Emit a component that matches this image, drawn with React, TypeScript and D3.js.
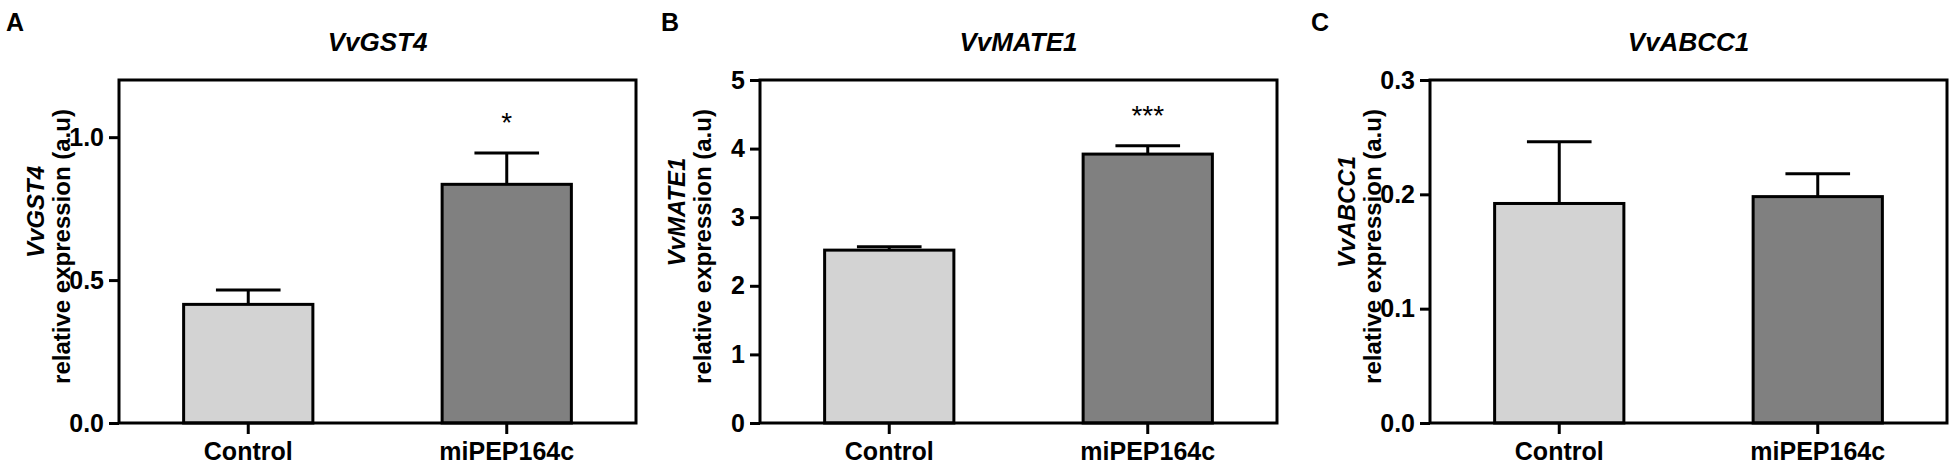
import React, { useEffect, useRef } from 'react';
import * as d3 from 'd3';

// categories and readings taken from the figure
const categories = ['Control', 'miPEP164c'];
const genes = ['VvGST4', 'VvMATE1', 'VvABCC1'];
const panelLetters = ['A', 'B', 'C'];

const gst4Means = [0.415, 0.835];
const gst4Errors = [0.05, 0.11];
const mate1Means = [2.52, 3.92];
const mate1Errors = [0.05, 0.12];
const abcc1Means = [0.192, 0.198];
const abcc1Errors = [0.054, 0.02];

const yMaxes = [1.2, 5, 0.3];
const yTickValues = [[0, 0.5, 1.0], [0, 1, 2, 3, 4, 5], [0, 0.1, 0.2, 0.3]];
const yTickFormats = ['.1f', 'd', '.1f'];
const significance = [['', '*'], ['', '***'], ['', '']];

const barColors = ['#d3d3d3', '#808080'];

const W = 1955;
const H = 472;
const FONT = 'Liberation Sans, Arial, sans-serif';

const App: React.FC = () => {
  const svgRef = useRef<SVGSVGElement>(null);

  useEffect(() => {
    if (!svgRef.current) return;
    const svg = d3.select(svgRef.current);
    svg.selectAll('*').remove();

    const means = [gst4Means, mate1Means, abcc1Means];
    const errors = [gst4Errors, mate1Errors, abcc1Errors];
    const frameLefts = [119, 760, 1430];
    const letterX = [6, 661, 1311];
    const frameW = 517;
    const top = 80;
    const bottom = 423;

    genes.forEach((gene, p) => {
      const x0 = frameLefts[p];
      const x = d3.scaleBand<string>().domain(categories).range([x0, x0 + frameW]).paddingInner(0.5).paddingOuter(0.25);
      const y = d3.scaleLinear().domain([0, yMaxes[p]]).range([bottom, top]);
      const g = svg.append('g');

      // panel letter
      g.append('text')
        .attr('x', letterX[p]).attr('y', 31)
        .attr('font-family', FONT).attr('font-weight', 'bold').attr('font-size', 25)
        .text(panelLetters[p]);

      // title
      g.append('text')
        .attr('x', x0 + frameW / 2).attr('y', 51)
        .attr('text-anchor', 'middle')
        .attr('font-family', FONT).attr('font-weight', 'bold').attr('font-style', 'italic').attr('font-size', 26)
        .text(gene);

      // bars
      categories.forEach((c, i) => {
        const bx = x(c)!;
        const bw = x.bandwidth();
        const cx = bx + bw / 2;
        const errTop = y(means[p][i] + errors[p][i]);
        g.append('line')
          .attr('x1', cx).attr('x2', cx)
          .attr('y1', y(means[p][i])).attr('y2', errTop)
          .attr('stroke', '#000').attr('stroke-width', 3);
        g.append('line')
          .attr('x1', cx - bw / 4).attr('x2', cx + bw / 4)
          .attr('y1', errTop).attr('y2', errTop)
          .attr('stroke', '#000').attr('stroke-width', 3);
        g.append('rect')
          .attr('x', bx).attr('y', y(means[p][i]))
          .attr('width', bw).attr('height', bottom - y(means[p][i]))
          .attr('fill', barColors[i]).attr('stroke', '#000').attr('stroke-width', 3);
        if (significance[p][i]) {
          g.append('text')
            .attr('x', cx).attr('y', errTop - 21)
            .attr('text-anchor', 'middle')
            .attr('font-family', FONT).attr('font-size', 28)
            .text(significance[p][i]);
        }
      });

      // frame
      g.append('rect')
        .attr('x', x0).attr('y', top).attr('width', frameW).attr('height', bottom - top)
        .attr('fill', 'none').attr('stroke', '#000').attr('stroke-width', 3);

      // y axis
      const yAxis = g.append('g').attr('transform', `translate(${x0},0)`)
        .call(d3.axisLeft(y).tickValues(yTickValues[p]).tickFormat(d3.format(yTickFormats[p])).tickSize(10).tickPadding(5));
      yAxis.select('.domain').remove();
      yAxis.selectAll('line').attr('stroke', '#000').attr('stroke-width', 3);
      yAxis.selectAll('text')
        .attr('font-family', FONT).attr('font-weight', 'bold').attr('font-size', 25).attr('fill', '#000');

      // x axis
      const xAxis = g.append('g').attr('transform', `translate(0,${bottom})`)
        .call(d3.axisBottom(x).tickSize(11).tickPadding(8));
      xAxis.select('.domain').remove();
      xAxis.selectAll('line').attr('stroke', '#000').attr('stroke-width', 3);
      xAxis.selectAll('text')
        .attr('font-family', FONT).attr('font-weight', 'bold').attr('font-size', 25).attr('fill', '#000');

      // y label
      g.append('text')
        .attr('transform', `translate(${x0 - 75},212) rotate(-90)`)
        .attr('text-anchor', 'middle')
        .attr('font-family', FONT).attr('font-weight', 'bold').attr('font-style', 'italic').attr('font-size', 24)
        .text(gene);
      g.append('text')
        .attr('transform', `translate(${x0 - 49},${(top + bottom) / 2 - 5}) rotate(-90)`)
        .attr('text-anchor', 'middle')
        .attr('font-family', FONT).attr('font-weight', 'bold').attr('font-size', 24)
        .text('relative expression (a.u)');
    });
  }, []);

  return (
    <div style={{ position: 'absolute', left: 0, top: 0, width: W, height: H, background: '#fff' }}>
      <svg ref={svgRef} width={W} height={H} />
    </div>
  );
};

export default App;
